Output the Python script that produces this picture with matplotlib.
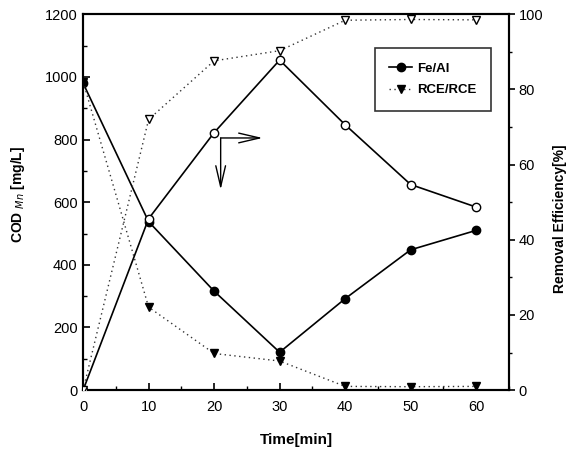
import matplotlib
matplotlib.use("Agg")
import matplotlib.pyplot as plt
from matplotlib.ticker import MultipleLocator

plt.rcParams['font.family'] = ['Liberation Sans', 'DejaVu Sans']

time = [0, 10, 20, 30, 40, 50, 60]
feal_cod = [980, 538, 316, 121, 292, 448, 510]
feal_eff = [0, 45.6, 68.5, 87.8, 70.6, 54.7, 48.7]
rce_cod = [985, 265, 117, 93, 12, 11, 12]
rce_eff = [0, 72.0, 87.6, 90.3, 98.4, 98.6, 98.5]

# decorative arrow geometry (data coords of left axis)
arrow_corner = (21.0, 805)
arrow_right_tip = (27.4, 805)
arrow_down_tip = (21.0, 640)

fig = plt.figure(figsize=(5.77, 4.59), dpi=100)
ax = fig.add_axes([0.144, 0.150, 0.738, 0.819])
ax2 = ax.twinx()

dot_style = (0, (1, 2.5))

l1, = ax.plot(time, feal_cod, '-', color='black', lw=1.2, marker='o', ms=6,
              mfc='black', mec='black', label='Fe/Al', zorder=3)
ax2.plot(time, feal_eff, '-', color='black', lw=1.2, marker='o', ms=6,
         mfc='white', mec='black', mew=1.0, zorder=3)
l2, = ax.plot(time, rce_cod, linestyle=dot_style, color='#333333', lw=1.0, marker='v', ms=6,
              mfc='black', mec='black', label='RCE/RCE', zorder=3)
ax2.plot(time, rce_eff, linestyle=dot_style, color='#333333', lw=1.0, marker='v', ms=6,
         mfc='white', mec='black', mew=1.0, zorder=3)

ax.set_xlim(0, 65)
ax.set_ylim(0, 1200)
ax2.set_ylim(0, 100)
ax.set_xticks([0, 10, 20, 30, 40, 50, 60])
ax.xaxis.set_minor_locator(MultipleLocator(5))
ax.set_yticks(range(0, 1201, 200))
ax.yaxis.set_minor_locator(MultipleLocator(100))
ax2.set_yticks(range(0, 101, 20))
ax2.yaxis.set_minor_locator(MultipleLocator(10))

for a in (ax, ax2):
    for s in a.spines.values():
        s.set_linewidth(1.5)
ax.tick_params(axis='both', which='major', direction='in', length=5, width=1.2, labelsize=10.5, pad=4)
ax.tick_params(axis='both', which='minor', direction='in', length=3, width=1.0)
ax.tick_params(axis='x', which='major', pad=7)
ax2.tick_params(axis='y', which='major', direction='out', length=4, width=1.2, labelsize=10.5, pad=3)
ax2.tick_params(axis='y', which='minor', direction='out', length=2.5, width=1.0)

ax.set_xlabel('Time[min]', fontsize=11, fontweight='bold', labelpad=14)
ax.set_ylabel(r'COD $_{\it Mn}$ [mg/L]', fontsize=10, fontweight='bold')
ax.yaxis.set_label_coords(-0.131, 0.52)
ax2.set_ylabel('Removal Efficiency[%]', fontsize=10, fontweight='bold')
ax2.yaxis.set_label_coords(1.103, 0.455)

ax.annotate('', xy=arrow_right_tip, xytext=arrow_corner,
            arrowprops=dict(arrowstyle='->,head_length=1.5,head_width=0.35', lw=1.0, color='black',
                            shrinkA=0, shrinkB=0))
ax.annotate('', xy=arrow_down_tip, xytext=arrow_corner,
            arrowprops=dict(arrowstyle='->,head_length=1.5,head_width=0.35', lw=1.0, color='black',
                            shrinkA=0, shrinkB=0))

leg = ax.legend(handles=[l1, l2], loc='upper left', bbox_to_anchor=(0.685, 0.91),
                fontsize=9.5, frameon=True, fancybox=False, edgecolor='black',
                handlelength=1.7, borderpad=1.1, labelspacing=0.7, handletextpad=0.4,
                borderaxespad=0)
leg.get_frame().set_linewidth(1.2)
for t in leg.get_texts():
    t.set_fontweight('bold')

fig.savefig('out.png', dpi=100)
